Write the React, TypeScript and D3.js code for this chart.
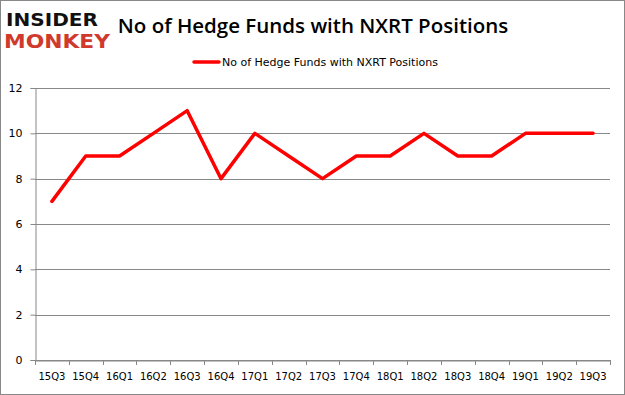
import React, { useEffect, useRef } from "react";
import * as d3 from "d3";

const quarters = ["15Q3", "15Q4", "16Q1", "16Q2", "16Q3", "16Q4", "17Q1", "17Q2", "17Q3", "17Q4", "18Q1", "18Q2", "18Q3", "18Q4", "19Q1", "19Q2", "19Q3"];
const funds = [7, 9, 9, 10, 11, 8, 10, 9, 8, 9, 9, 10, 9, 9, 10, 10, 10];
const yTicks = [0, 2, 4, 6, 8, 10, 12];

const W = 625;
const H = 395;
const margin = { top: 88, right: 15, bottom: 35, left: 35 };

export default function App() {
  const ref = useRef<SVGSVGElement>(null);

  useEffect(() => {
    const svg = d3.select(ref.current);
    svg.selectAll("*").remove();

    const x = d3.scaleBand<string>().domain(quarters).range([margin.left, W - margin.right]);
    const y = d3.scaleLinear().domain([0, 12]).range([H - margin.bottom, margin.top]);

    svg.append("rect").attr("x", 0.5).attr("y", 0.5).attr("width", W - 1).attr("height", H - 1)
      .attr("fill", "#fff").attr("stroke", "#888");

    // grid
    svg.append("g").selectAll("line").data(yTicks).join("line")
      .attr("x1", margin.left).attr("x2", W - margin.right)
      .attr("y1", (d) => Math.round(y(d)) + 0.5).attr("y2", (d) => Math.round(y(d)) + 0.5)
      .attr("stroke", "#888").attr("stroke-width", 1);

    const yAxis = svg.append("g").attr("transform", `translate(${margin.left + 0.5},0)`)
      .call(d3.axisLeft(y).tickValues(yTicks).tickSize(5).tickPadding(8).tickFormat(d3.format("d")));
    yAxis.select(".domain").attr("stroke", "#888");
    yAxis.selectAll(".tick line").attr("stroke", "#888");
    yAxis.selectAll("text").attr("font-family", "Tahoma, 'DejaVu Sans', sans-serif").attr("font-size", 11).attr("fill", "#000");

    const xAxis = svg.append("g").attr("transform", `translate(0,${Math.round(y(0)) + 0.5})`)
      .call(d3.axisBottom(x).tickSize(0).tickPadding(12));
    xAxis.select(".domain").attr("stroke", "#888");
    xAxis.selectAll("text").attr("font-family", "Tahoma, 'DejaVu Sans', sans-serif").attr("font-size", 10).attr("fill", "#000");
    // tick marks at band boundaries
    const bounds = quarters.map((q) => x(q) as number).concat([W - margin.right]);
    svg.append("g").selectAll("line").data(bounds).join("line")
      .attr("x1", (d) => Math.round(d) + 0.5).attr("x2", (d) => Math.round(d) + 0.5)
      .attr("y1", Math.round(y(0))).attr("y2", Math.round(y(0)) + 5)
      .attr("stroke", "#888");

    const line = d3.line<number>()
      .x((_, i) => (x(quarters[i]) as number) + x.bandwidth() / 2)
      .y((d) => y(d));
    svg.append("path").datum(funds).attr("d", line).attr("fill", "none")
      .attr("stroke", "#ff0000").attr("stroke-width", 3.5).attr("stroke-linejoin", "round").attr("stroke-linecap", "round");

    // title
    svg.append("text").attr("x", 313).attr("y", 33).attr("text-anchor", "middle")
      .attr("font-family", "'Open Sans', 'Noto Sans', sans-serif").attr("font-size", 20.5).attr("font-weight", 600)
      .attr("fill", "#000").text("No of Hedge Funds with NXRT Positions");

    // legend
    svg.append("line").attr("x1", 194).attr("x2", 219).attr("y1", 62).attr("y2", 62)
      .attr("stroke", "#ff0000").attr("stroke-width", 3.5).attr("stroke-linecap", "round");
    svg.append("text").attr("x", 222).attr("y", 66)
      .attr("font-family", "Tahoma, 'DejaVu Sans', sans-serif").attr("font-size", 11).attr("fill", "#000")
      .text("No of Hedge Funds with NXRT Positions");

    // logo
    svg.append("text").attr("x", 6).attr("y", 26)
      .attr("font-family", "'DejaVu Sans', sans-serif").attr("font-size", 18).attr("font-weight", 900)
      .attr("textLength", 92).attr("lengthAdjust", "spacingAndGlyphs").attr("fill", "#111").text("INSIDER");
    svg.append("text").attr("x", 4).attr("y", 48)
      .attr("font-family", "'DejaVu Sans', sans-serif").attr("font-size", 19).attr("font-weight", 900)
      .attr("textLength", 106).attr("lengthAdjust", "spacingAndGlyphs").attr("fill", "#d03a2c").text("MONKEY");
  }, []);

  return (
    <svg ref={ref} width={W} height={H} style={{ display: "block", position: "absolute", left: 0, top: 0 }} />
  );
}
